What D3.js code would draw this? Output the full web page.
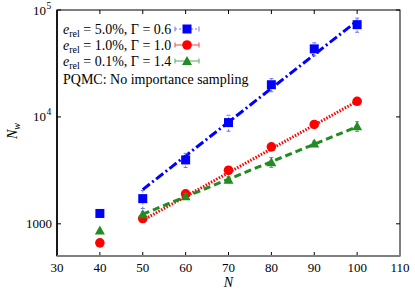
<!DOCTYPE html>
<html>
<head>
<meta charset="utf-8">
<script src="https://cdnjs.cloudflare.com/ajax/libs/d3/7.8.5/d3.min.js"></script>
<style>
  body { margin: 0; background: #fff; }
</style>
</head>
<body>
<script>
// data
var Ns = [40, 50, 60, 70, 80, 90, 100];
var blueVals = [1250, 1720, 3960, 8850, 20000, 43300, 72900];
var blueErr  = [0, 330, 600, 1500, 2800, 6000, 11000];
var redVals  = [664, 1120, 1905, 3170, 5250, 8500, 14000];
var redErr   = [0, 40, 70, 110, 180, 280, 450];
var greenVals = [866, 1230, 1810, 2590, 3770, 5630, 8170];
var greenErr  = [0, 60, 110, 170, 400, 300, 850];
var fitN = [50, 100];
var blueFit = [2090, 79000];
var redFit = [1080, 14000];
var greenFit = [1230, 8100];
var xTicks = [30, 40, 50, 60, 70, 80, 90, 100, 110];
var yTicks = [1000, 10000, 100000];

var width = 415, height = 291;
var margin = {top: 10, right: 15, bottom: 35, left: 57};

var svg = d3.select("body").append("svg")
  .attr("width", width).attr("height", height);

// every text gets the serif face set directly
function txt(sel) {
  return sel.append("text").style("font-family", "'Liberation Serif'");
}

var x = d3.scaleLinear().domain([30, 110]).range([margin.left, width - margin.right]);
var y = d3.scaleLog().domain([500, 100000]).range([height - margin.bottom, margin.top]);

var series = [
  {vals: blueVals, err: blueErr, fit: blueFit, color: "#0000ff", errColor: "#7070ff",
   dash: "9,3,2,3", shape: "square", label: ["5.0%", "0.6"], legDash: "2,2"},
  {vals: redVals, err: redErr, fit: redFit, color: "#ff0000", errColor: "#ff4040",
   dash: "1.5,1.5", shape: "circle", label: ["1.0%", "1.0"], legDash: null},
  {vals: greenVals, err: greenErr, fit: greenFit, color: "#228b22", errColor: "#55aa55",
   dash: "7,4", shape: "triangle", label: ["0.1%", "1.4"], legDash: null}
];

function marker(g, shape, color, cx, cy) {
  if (shape == "square") {
    g.append("rect").attr("x", cx - 4.5).attr("y", cy - 4.5)
      .attr("width", 9).attr("height", 9).attr("fill", color);
  } else if (shape == "circle") {
    g.append("circle").attr("cx", cx).attr("cy", cy).attr("r", 4.8).attr("fill", color);
  } else {
    g.append("path").attr("d", "M" + cx + "," + (cy - 5) + "L" + (cx + 5) + "," + (cy + 4) +
      "L" + (cx - 5) + "," + (cy + 4) + "Z").attr("fill", color);
  }
}

// frame
svg.append("rect").attr("x", margin.left).attr("y", margin.top)
  .attr("width", x(110) - x(30)).attr("height", y(500) - y(100000))
  .attr("fill", "none").attr("stroke", "#000").attr("stroke-width", 1);

// ticks inward
xTicks.slice(1, -1).forEach(function (t) {
  svg.append("line").attr("x1", x(t)).attr("x2", x(t))
    .attr("y1", margin.top).attr("y2", margin.top + 4).attr("stroke", "#000");
  svg.append("line").attr("x1", x(t)).attr("x2", x(t))
    .attr("y1", y(500)).attr("y2", y(500) - 4).attr("stroke", "#000");
});
yTicks.forEach(function (t) {
  svg.append("line").attr("x1", margin.left).attr("x2", margin.left + 4)
    .attr("y1", y(t)).attr("y2", y(t)).attr("stroke", "#000");
  svg.append("line").attr("x1", x(110)).attr("x2", x(110) - 4)
    .attr("y1", y(t)).attr("y2", y(t)).attr("stroke", "#000");
});
// axis lines: left black, bottom gray
svg.append("line").attr("x1", margin.left).attr("x2", margin.left)
  .attr("y1", margin.top).attr("y2", y(500)).attr("stroke", "#000").attr("stroke-width", 1.6);
svg.append("line").attr("x1", margin.left).attr("x2", x(110))
  .attr("y1", y(500)).attr("y2", y(500)).attr("stroke", "#808080").attr("stroke-width", 2.2);

// tick labels
xTicks.forEach(function (t) {
  txt(svg).attr("x", x(t)).attr("y", 272).attr("text-anchor", "middle")
    .attr("font-size", 13).text(t);
});
txt(svg).attr("x", 52).attr("y", y(1000) + 4.5).attr("text-anchor", "end")
  .attr("font-size", 13).text("1000");
[[10000, "4"], [100000, "5"]].forEach(function (p) {
  txt(svg).attr("x", 46).attr("y", y(p[0]) + 4.5).attr("text-anchor", "end")
    .attr("font-size", 13).text("10");
  txt(svg).attr("x", 46.5).attr("y", y(p[0]) - 1.5).attr("font-size", 9.5).text(p[1]);
});

// axis titles
txt(svg).attr("x", x(70)).attr("y", 287).attr("text-anchor", "middle")
  .attr("font-size", 14).attr("font-style", "italic").text("N");
var yl = txt(svg).attr("transform", "translate(17,131) rotate(-90)")
  .attr("text-anchor", "middle").attr("font-size", 14);
yl.append("tspan").attr("font-style", "italic").text("N");
yl.append("tspan").attr("font-style", "italic").attr("font-size", 10).attr("dy", 3).text("w");

var line = d3.line().x(function (d) { return x(d[0]); }).y(function (d) { return y(d[1]); });

series.forEach(function (s) {
  // fit line
  svg.append("path").datum(d3.zip(fitN, s.fit)).attr("d", line)
    .attr("fill", "none").attr("stroke", s.color).attr("stroke-width", 3)
    .attr("stroke-dasharray", s.dash);
});

series.forEach(function (s) {
  var g = svg.append("g");
  Ns.forEach(function (n, i) {
    if (s.err[i] > 0) {
      var y0 = y(s.vals[i] - s.err[i]), y1 = y(s.vals[i] + s.err[i]);
      g.append("line").attr("x1", x(n)).attr("x2", x(n)).attr("y1", y0).attr("y2", y1)
        .attr("stroke", s.errColor).attr("stroke-width", 1)
        .attr("stroke-dasharray", s.legDash);
      [y0, y1].forEach(function (yy) {
        g.append("line").attr("x1", x(n) - 2).attr("x2", x(n) + 2).attr("y1", yy).attr("y2", yy)
          .attr("stroke", s.errColor).attr("stroke-width", 1);
      });
    }
    marker(g, s.shape, s.color, x(n), y(s.vals[i]));
  });
});

// legend
series.forEach(function (s, i) {
  var cy = 29 + i * 16;
  var t = txt(svg).attr("x", 63).attr("y", cy + 4.5).attr("font-size", 14);
  t.append("tspan").attr("font-style", "italic").text("e");
  t.append("tspan").attr("font-size", 10).attr("dy", 3).text("rel");
  t.append("tspan").attr("dy", -3).text(" = " + s.label[0] + ", \u0393 = " + s.label[1]);
  svg.append("line").attr("x1", 175).attr("x2", 199).attr("y1", cy).attr("y2", cy)
    .attr("stroke", s.errColor).attr("stroke-width", 1).attr("stroke-dasharray", s.legDash);
  [175, 199].forEach(function (xx) {
    svg.append("line").attr("x1", xx).attr("x2", xx).attr("y1", cy - 2.5).attr("y2", cy + 2.5)
      .attr("stroke", s.errColor).attr("stroke-width", 1);
  });
  marker(svg, s.shape, s.color, 187, cy);
});
txt(svg).attr("x", 63).attr("y", 84).attr("font-size", 14)
  .text("PQMC: No importance sampling");
</script>
</body>
</html>
